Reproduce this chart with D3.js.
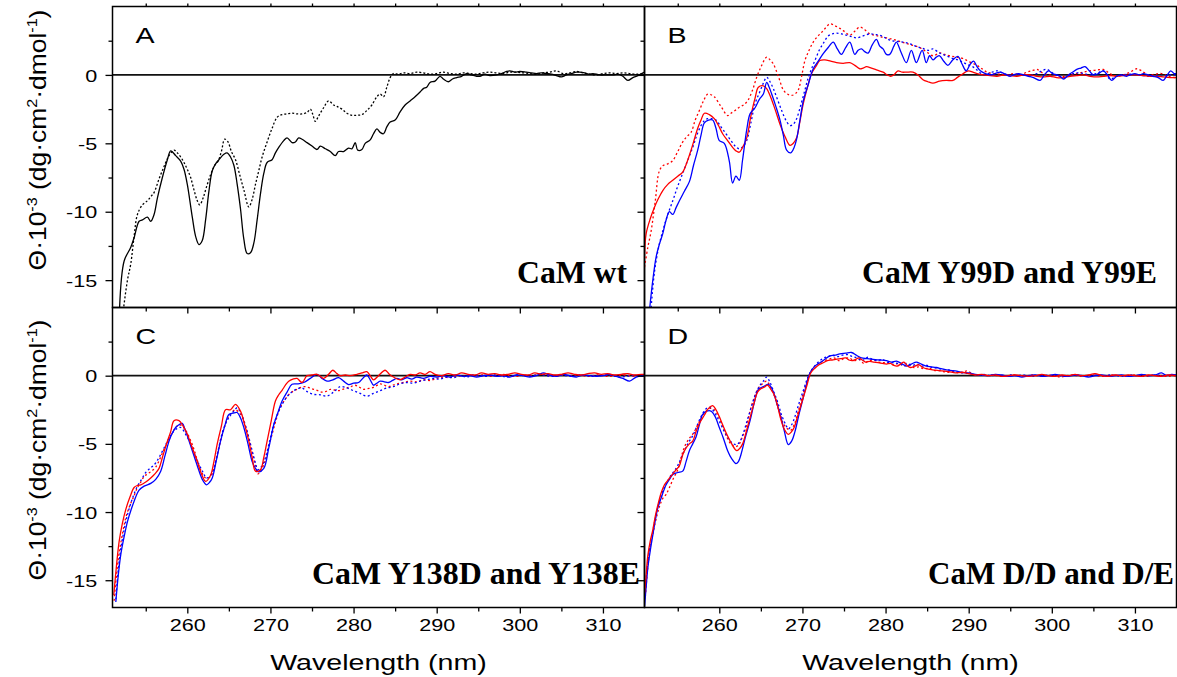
<!DOCTYPE html>
<html>
<head>
<meta charset="utf-8">
<script src="https://cdn.jsdelivr.net/npm/d3@7"></script>
<style>
  body { margin: 0; background: #fff; }
  svg { display: block; }
  .tick text { font-family: "Liberation Sans", Arial, sans-serif; font-size: 17px; fill: #000; }
</style>
</head>
<body>
<svg id="chart" width="1177" height="677"></svg>
<script>
// ---- data: [wavelength nm, theta*10^-3] ----
const aWtSolid = [[251.84,-17.2],[252.4,-13.6],[253.2,-12.6],[253.6,-11.9],[254.2,-10.7],[254.6,-10.6],[255.2,-10.4],[255.6,-10.7],[256.0,-10.2],[256.4,-9.0],[257.0,-7.5],[257.6,-6.2],[258.0,-5.55],[258.6,-5.9],[259.2,-6.3],[259.6,-6.9],[260.0,-8.0],[260.6,-10.4],[261.0,-11.8],[261.4,-12.4],[261.8,-12.1],[262.2,-10.6],[262.6,-8.5],[263.0,-7.0],[263.4,-6.5],[263.8,-6.2],[264.4,-5.8],[264.8,-5.7],[265.2,-6.0],[265.6,-6.6],[266.0,-8.0],[266.4,-9.8],[266.8,-12.0],[267.2,-13.05],[267.6,-13.0],[268.0,-12.3],[268.4,-10.6],[268.8,-8.7],[269.2,-7.2],[269.6,-6.4],[270.2,-6.2],[270.6,-5.7],[271.0,-5.3],[271.6,-4.8],[272.0,-4.6],[272.6,-4.95],[273.0,-4.9],[273.4,-4.6],[273.8,-4.7],[274.4,-4.95],[275.0,-5.2],[275.6,-5.45],[276.0,-5.2],[276.6,-5.4],[277.2,-5.6],[277.8,-5.9],[278.2,-5.6],[278.8,-5.6],[279.4,-5.35],[279.8,-5.4],[280.2,-4.95],[280.5,-5.5],[281.0,-5.45],[281.4,-5.0],[282.0,-4.75],[282.4,-4.3],[282.8,-3.95],[283.2,-4.2],[283.6,-4.3],[284.0,-3.8],[284.4,-3.45],[285.0,-3.3],[285.6,-2.7],[286.2,-2.2],[286.8,-1.9],[287.4,-1.6],[288.0,-1.25],[288.4,-1.0],[288.8,-0.9],[289.2,-0.55],[289.8,-0.45],[290.4,-0.1],[290.8,-0.3],[291.4,-0.5],[291.9,-0.3],[292.4,-0.2],[293.0,-0.1],[293.6,0.1],[294.2,0.0],[294.8,-0.1],[295.2,-0.1],[295.8,0.05],[296.4,-0.05],[297.2,0.0],[297.8,0.1],[298.4,0.25],[298.8,0.3],[299.4,0.2],[300.0,0.25],[300.8,0.2],[301.4,0.15],[302.0,0.1],[302.6,0.15],[303.2,0.1],[303.8,0.05],[304.4,-0.05],[305.0,-0.15],[305.6,0.0],[306.2,0.1],[306.8,0.2],[307.2,0.2],[307.8,0.15],[308.4,0.05],[308.8,0.1],[309.6,0.0],[310.4,0.0],[311.2,0.0],[311.8,0.05],[312.4,-0.1],[313.0,-0.4],[313.6,-0.2],[314.2,-0.05],[315.0,0.2]];
const aWtDotted = [[252.3,-17.2],[252.8,-15.0],[253.2,-13.8],[253.6,-11.8],[254.0,-10.2],[254.6,-9.5],[255.2,-9.2],[255.6,-8.9],[256.0,-8.6],[256.6,-7.6],[257.2,-6.7],[257.8,-5.9],[258.4,-5.5],[258.8,-5.7],[259.2,-6.0],[259.6,-6.4],[260.0,-6.9],[260.4,-7.5],[260.8,-8.4],[261.2,-9.2],[261.5,-9.5],[261.9,-9.0],[262.3,-8.2],[262.8,-7.3],[263.3,-6.6],[263.7,-6.3],[264.1,-5.6],[264.5,-4.7],[264.9,-4.9],[265.3,-5.6],[265.8,-6.2],[266.3,-7.3],[266.8,-8.4],[267.4,-9.65],[267.8,-9.1],[268.2,-8.0],[268.6,-7.0],[269.0,-6.0],[269.6,-4.9],[270.2,-3.9],[270.8,-3.1],[271.4,-2.9],[272.0,-2.85],[272.6,-2.8],[273.2,-2.85],[273.8,-2.85],[274.4,-2.75],[274.8,-2.5],[275.1,-2.9],[275.4,-3.4],[275.8,-3.0],[276.4,-2.4],[277.0,-1.9],[277.6,-2.2],[278.0,-2.3],[278.6,-2.5],[279.2,-2.8],[279.8,-2.95],[280.4,-2.95],[281.0,-2.9],[281.6,-2.6],[282.2,-2.2],[282.8,-1.6],[283.2,-1.4],[283.6,-1.6],[284.0,-0.9],[284.4,-0.2],[284.8,0.1],[285.4,0.05],[286.0,0.15],[286.8,0.1],[287.6,0.2],[288.4,0.15],[289.2,0.05],[290.0,0.1],[290.8,0.2],[291.6,0.1],[292.4,0.05],[293.2,0.15],[294.0,0.1],[294.8,0.05],[295.6,0.15],[296.4,0.2],[297.2,0.15],[298.0,0.1],[298.8,0.2],[299.6,0.2],[300.4,0.15],[301.2,0.1],[302.0,0.05],[302.8,0.15],[303.6,0.2],[304.4,0.3],[305.2,0.1],[306.0,0.15],[306.8,0.25],[307.6,0.15],[308.4,0.05],[309.2,0.0],[310.0,0.1],[310.8,0.15],[311.6,0.1],[312.4,0.15],[313.2,0.1],[314.0,0.05],[315.0,0.1]];

const bBlueSolid = [[251.6,-17.2],[252.0,-15.0],[252.4,-13.3],[252.8,-12.35],[253.2,-11.6],[253.6,-10.6],[254.0,-10.0],[254.4,-10.2],[254.8,-9.7],[255.2,-9.2],[255.8,-8.5],[256.4,-7.8],[256.9,-6.6],[257.4,-5.5],[257.8,-4.4],[258.2,-3.5],[258.7,-3.3],[259.2,-3.3],[259.6,-3.9],[260.0,-4.8],[260.6,-5.0],[261.2,-6.3],[261.6,-7.9],[262.0,-7.4],[262.4,-7.7],[262.8,-6.2],[263.3,-4.0],[263.7,-2.85],[264.3,-2.4],[264.8,-1.8],[265.3,-1.4],[265.7,-0.55],[266.0,-0.9],[266.3,-1.4],[266.8,-2.3],[267.3,-3.3],[267.7,-4.4],[268.1,-5.5],[268.6,-5.7],[269.0,-5.3],[269.3,-4.7],[269.7,-3.3],[270.1,-1.9],[270.7,-0.7],[271.3,0.45],[271.9,1.0],[272.5,1.55],[273.1,2.0],[273.7,2.4],[274.2,1.9],[274.7,1.5],[275.2,2.0],[275.7,2.4],[276.3,1.5],[276.7,1.8],[277.1,1.9],[277.5,1.7],[277.9,1.6],[278.4,2.2],[278.9,2.6],[279.3,2.1],[279.7,1.9],[280.1,1.5],[280.5,1.5],[281.0,2.1],[281.3,2.4],[281.9,1.6],[282.5,0.9],[283.1,1.8],[283.7,0.9],[284.4,1.8],[284.9,0.9],[285.3,1.4],[285.7,1.1],[286.1,1.3],[286.5,1.4],[287.0,1.0],[287.5,0.7],[288.1,1.1],[288.7,1.35],[289.2,0.8],[289.7,0.3],[290.2,0.8],[290.6,1.0],[291.0,0.6],[291.4,0.3],[292.0,0.1],[292.6,0.0],[293.2,0.1],[293.8,0.2],[294.4,0.05],[295.0,-0.1],[295.4,0.0],[296.0,0.1],[296.6,0.0],[297.2,-0.1],[297.8,-0.2],[298.6,-0.4],[299.1,0.0],[299.6,0.3],[300.1,0.1],[300.6,0.0],[301.0,-0.1],[301.4,-0.3],[302.0,0.0],[302.5,0.2],[303.0,0.4],[303.5,0.5],[304.0,0.6],[304.5,0.3],[305.0,0.0],[305.6,0.1],[306.2,0.3],[306.7,0.0],[307.2,-0.4],[307.8,-0.1],[308.4,0.0],[309.0,-0.1],[309.4,0.0],[310.0,0.1],[310.6,0.0],[311.0,0.1],[311.6,0.0],[312.2,-0.1],[312.8,-0.2],[313.4,-0.4],[313.8,-0.1],[314.3,0.3],[314.7,0.1],[315.0,0.1]];
const bRedSolid = [[251.0,-13.2],[251.2,-11.6],[251.7,-10.5],[252.2,-9.67],[252.7,-9.0],[253.2,-8.45],[253.8,-8.0],[254.4,-7.7],[255.0,-7.4],[255.6,-7.1],[256.1,-6.4],[256.6,-5.5],[257.0,-4.7],[257.4,-3.9],[257.8,-3.3],[258.2,-2.8],[258.8,-2.9],[259.4,-3.2],[259.9,-3.7],[260.4,-4.3],[261.0,-4.8],[261.6,-5.3],[262.0,-5.55],[262.4,-5.65],[262.8,-5.3],[263.3,-4.6],[263.8,-3.0],[264.3,-1.7],[264.7,-0.9],[265.3,-0.8],[265.7,-1.0],[266.1,-1.5],[266.7,-2.5],[267.3,-3.6],[267.9,-4.5],[268.5,-5.15],[268.9,-5.0],[269.3,-4.6],[269.7,-3.4],[270.1,-2.1],[270.6,-0.9],[271.1,0.1],[271.6,0.6],[272.1,1.05],[272.7,1.1],[273.4,1.0],[274.1,0.9],[274.9,0.85],[275.7,0.9],[276.3,0.7],[276.9,0.45],[277.3,0.5],[277.7,0.6],[278.3,0.5],[279.0,0.35],[279.7,0.2],[280.2,0.0],[280.6,-0.1],[281.0,0.0],[281.5,0.3],[282.0,0.2],[282.5,0.2],[283.3,0.2],[283.9,0.0],[284.5,-0.35],[285.1,-0.5],[285.7,-0.6],[286.5,-0.45],[287.3,-0.4],[288.1,-0.4],[288.6,-0.2],[289.1,0.0],[289.6,0.2],[290.0,0.3],[290.5,0.2],[291.0,0.1],[291.8,0.0],[292.6,-0.05],[293.4,-0.1],[294.2,0.0],[295.0,-0.05],[295.8,-0.1],[296.6,0.0],[297.4,0.0],[298.2,-0.1],[299.0,-0.15],[299.8,-0.1],[300.6,-0.2],[301.4,-0.2],[302.2,-0.1],[303.0,-0.05],[303.8,0.0],[304.6,-0.1],[305.4,-0.15],[306.2,-0.1],[307.0,-0.05],[307.8,-0.1],[308.6,-0.05],[309.4,0.0],[310.2,0.0],[311.0,-0.05],[311.8,-0.1],[312.6,-0.1],[313.4,-0.15],[314.2,-0.2],[315.0,-0.2]];
const bBlueDotted = [[251.8,-17.0],[252.2,-14.4],[252.7,-12.6],[253.2,-11.4],[253.8,-10.2],[254.4,-9.2],[254.9,-8.3],[255.4,-7.5],[256.1,-6.4],[256.8,-5.3],[257.3,-4.4],[257.8,-3.7],[258.2,-3.35],[258.6,-3.2],[259.1,-3.2],[259.6,-3.3],[260.2,-3.8],[260.8,-4.3],[261.4,-4.8],[261.9,-5.2],[262.4,-5.4],[262.9,-5.2],[263.3,-4.8],[263.8,-3.5],[264.3,-2.1],[264.9,-1.2],[265.3,-0.6],[265.7,-0.17],[266.1,-0.5],[266.5,-1.0],[267.0,-1.8],[267.5,-2.6],[268.0,-3.3],[268.5,-3.7],[268.9,-3.6],[269.3,-3.2],[269.8,-2.2],[270.3,-1.1],[270.7,-0.2],[271.1,0.45],[271.6,1.2],[272.1,1.9],[272.6,2.4],[273.1,2.85],[273.6,3.0],[274.1,3.05],[274.7,3.0],[275.3,2.9],[275.9,2.8],[276.5,2.7],[277.3,2.85],[278.1,3.0],[278.7,2.95],[279.3,2.9],[280.0,2.7],[280.7,2.5],[281.4,2.45],[282.1,2.4],[282.8,2.3],[283.6,2.1],[284.4,1.95],[285.2,1.8],[285.7,1.9],[286.5,1.6],[287.3,1.4],[288.1,1.2],[288.9,1.05],[289.7,0.8],[290.6,0.55],[291.2,0.25],[291.8,0.0],[292.6,0.15],[293.4,0.3],[294.2,0.1],[295.0,0.0],[295.8,0.05],[296.6,0.0],[297.4,-0.05],[298.2,0.1],[298.8,0.3],[299.4,0.4],[300.2,0.1],[300.8,-0.1],[301.4,-0.2],[302.2,0.0],[303.0,0.15],[303.8,0.1],[304.6,0.0],[305.4,0.1],[306.2,0.3],[307.0,-0.3],[307.8,-0.1],[308.6,0.0],[309.4,0.05],[310.2,0.0],[311.0,-0.05],[311.8,-0.1],[312.6,-0.05],[313.4,-0.1],[314.2,0.0],[315.0,0.0]];
const bRedDotted = [[251.0,-14.05],[251.4,-12.6],[251.8,-11.4],[252.3,-9.2],[252.8,-7.0],[253.3,-6.6],[253.8,-6.5],[254.4,-6.26],[255.0,-5.6],[255.6,-4.9],[256.1,-4.5],[256.6,-4.2],[257.1,-3.3],[257.6,-2.6],[258.1,-1.9],[258.6,-1.4],[259.0,-1.45],[259.4,-1.6],[260.2,-2.3],[261.0,-2.97],[261.4,-2.8],[261.9,-2.6],[262.4,-2.36],[262.9,-2.2],[263.4,-1.9],[264.0,-1.1],[264.5,-0.17],[265.1,0.7],[265.7,1.3],[266.1,1.1],[266.5,0.8],[267.1,-0.1],[267.7,-1.1],[268.2,-1.4],[268.7,-1.5],[269.1,-1.4],[269.5,-1.1],[269.9,-0.1],[270.3,1.05],[270.8,1.8],[271.3,2.4],[271.8,2.8],[272.3,3.1],[272.8,3.45],[273.3,3.73],[273.9,3.6],[274.5,3.4],[275.1,3.15],[275.7,2.9],[276.3,3.2],[276.9,3.5],[277.5,3.3],[278.1,3.0],[278.7,2.9],[279.3,2.8],[280.1,2.7],[280.9,2.6],[281.7,2.45],[282.5,2.3],[283.3,2.15],[284.1,2.0],[284.9,1.7],[285.7,1.4],[286.5,1.6],[287.1,1.5],[287.7,1.4],[288.5,1.3],[289.3,1.2],[290.1,0.95],[291.0,0.7],[291.6,0.45],[292.2,0.2],[293.0,0.1],[293.8,0.05],[294.6,0.0],[295.4,0.1],[296.2,0.0],[297.0,0.2],[297.6,0.3],[298.2,0.4],[299.0,0.1],[299.8,0.0],[300.6,-0.05],[301.4,-0.1],[302.2,0.0],[303.0,0.1],[303.8,0.2],[304.6,0.3],[305.4,0.35],[306.2,0.4],[307.0,0.1],[307.8,-0.1],[308.6,0.0],[309.4,0.2],[310.2,0.45],[310.8,0.3],[311.6,0.0],[312.4,0.05],[313.2,0.1],[314.0,-0.1],[315.0,-0.2]];

const cRedSolid = [[251.15,-16.1],[251.5,-13.8],[251.8,-12.15],[252.2,-10.8],[252.6,-9.8],[253.1,-8.9],[253.6,-8.2],[254.0,-8.05],[254.4,-8.0],[255.0,-7.8],[255.6,-7.5],[256.1,-7.2],[256.6,-6.8],[257.0,-6.0],[257.5,-5.0],[258.0,-4.1],[258.4,-3.3],[259.0,-3.3],[259.5,-3.7],[260.0,-4.3],[260.6,-5.3],[261.2,-6.3],[261.7,-7.2],[262.2,-7.75],[262.8,-7.3],[263.2,-6.3],[263.6,-5.0],[264.1,-3.7],[264.6,-2.5],[265.2,-2.5],[265.8,-2.1],[266.4,-2.6],[266.9,-3.6],[267.4,-4.8],[267.8,-6.0],[268.2,-7.0],[268.8,-6.9],[269.2,-6.0],[269.6,-4.8],[270.1,-3.3],[270.6,-1.86],[271.0,-1.4],[271.4,-1.07],[271.8,-0.7],[272.2,-0.4],[272.7,-0.25],[273.2,-0.2],[273.8,-0.5],[274.4,0.0],[275.0,0.05],[275.6,0.1],[276.0,-0.05],[276.4,-0.2],[277.0,0.1],[277.5,0.4],[278.0,0.15],[278.4,0.0],[279.0,0.05],[279.6,0.0],[280.4,0.1],[281.0,0.2],[281.6,0.3],[282.0,0.0],[282.4,-0.3],[283.0,0.0],[283.8,0.4],[284.3,0.1],[284.8,-0.1],[285.6,-0.3],[286.2,-0.1],[286.8,0.1],[287.4,0.05],[288.0,0.2],[288.6,0.1],[289.2,0.3],[289.8,0.1],[290.6,0.0],[291.4,0.15],[292.2,0.05],[293.0,0.2],[293.8,0.1],[294.6,0.05],[295.4,0.2],[296.2,0.1],[297.0,0.15],[297.8,0.05],[298.6,0.1],[299.4,0.2],[300.2,0.1],[301.0,0.05],[301.8,0.2],[302.6,0.1],[303.4,0.15],[304.2,0.05],[305.0,0.1],[305.8,0.2],[306.6,0.1],[307.4,0.05],[308.2,0.15],[309.0,0.2],[309.8,0.1],[310.6,0.15],[311.4,0.05],[312.2,0.1],[313.0,0.15],[313.8,0.05],[314.6,0.1],[315.0,0.1]];
const cBlueSolid = [[251.4,-16.6],[251.7,-14.6],[252.0,-13.1],[252.4,-11.8],[252.8,-10.7],[253.2,-9.9],[253.6,-9.2],[254.2,-8.4],[254.8,-8.1],[255.6,-7.9],[256.2,-7.6],[256.8,-7.0],[257.3,-5.9],[257.8,-4.8],[258.2,-4.2],[258.6,-3.8],[259.0,-3.6],[259.4,-3.5],[259.7,-3.9],[260.0,-4.4],[260.6,-5.5],[261.2,-6.6],[261.8,-7.6],[262.3,-8.0],[262.7,-7.8],[263.0,-7.5],[263.5,-6.2],[264.0,-4.8],[264.5,-3.7],[265.0,-2.85],[265.5,-2.75],[266.0,-2.7],[266.4,-3.1],[266.8,-3.8],[267.3,-5.0],[267.8,-6.3],[268.2,-6.8],[268.6,-7.05],[269.2,-6.8],[269.8,-5.3],[270.4,-3.6],[270.9,-2.7],[271.4,-1.86],[272.0,-1.2],[272.6,-0.63],[273.3,-0.6],[274.0,-0.5],[274.8,-0.2],[275.6,0.1],[276.2,-0.2],[276.8,-0.4],[277.5,-0.3],[278.2,-0.15],[278.8,-0.4],[279.4,-0.65],[280.0,-0.55],[280.6,-0.5],[281.1,-0.2],[281.6,0.05],[282.0,-0.3],[282.4,-0.7],[282.8,-0.55],[283.2,-0.4],[283.7,-0.45],[284.2,-0.5],[284.7,-0.35],[285.2,-0.2],[285.8,-0.3],[286.4,-0.15],[287.0,-0.25],[287.6,-0.1],[288.4,-0.2],[289.2,-0.05],[290.0,-0.1],[290.8,0.0],[291.6,-0.1],[292.4,0.05],[293.2,-0.05],[294.0,0.0],[294.8,-0.1],[295.6,0.0],[296.4,0.05],[297.2,-0.05],[298.0,0.0],[298.8,-0.1],[299.6,0.05],[300.4,0.0],[301.2,-0.1],[302.0,0.0],[302.8,0.2],[303.6,0.05],[304.4,-0.05],[305.2,0.1],[306.0,0.0],[306.8,-0.1],[307.6,0.05],[308.4,0.0],[309.2,-0.05],[310.0,0.0],[310.8,0.1],[311.6,-0.05],[312.4,-0.2],[313.2,-0.4],[314.0,-0.1],[315.0,0.0]];
const cBlueDotted = [[251.4,-16.4],[251.7,-14.2],[252.0,-12.7],[252.4,-11.3],[252.8,-10.2],[253.4,-9.0],[254.0,-8.1],[254.5,-7.6],[255.0,-7.1],[255.5,-6.8],[256.0,-6.55],[256.6,-6.0],[257.2,-5.3],[257.7,-4.7],[258.2,-4.2],[258.7,-3.9],[259.2,-3.8],[259.8,-4.3],[260.4,-5.0],[260.9,-5.8],[261.4,-6.5],[261.9,-7.1],[262.3,-7.5],[262.8,-7.3],[263.2,-6.8],[263.7,-5.5],[264.2,-4.2],[264.7,-3.4],[265.2,-2.9],[265.6,-2.6],[266.0,-2.35],[266.4,-2.7],[266.8,-3.3],[267.3,-4.3],[267.8,-5.5],[268.2,-6.4],[268.5,-6.9],[269.0,-6.6],[269.4,-6.0],[269.9,-4.8],[270.4,-3.6],[271.0,-2.6],[271.6,-1.9],[272.2,-1.4],[272.8,-1.1],[273.3,-0.95],[273.8,-0.9],[274.5,-1.2],[275.2,-1.37],[276.0,-1.4],[276.8,-1.5],[277.6,-1.2],[278.4,-0.8],[279.2,-0.9],[280.0,-1.1],[280.8,-1.3],[281.6,-1.5],[282.4,-1.3],[283.2,-1.1],[284.0,-0.9],[284.8,-0.8],[285.6,-0.6],[286.4,-0.5],[287.2,-0.55],[288.0,-0.4],[288.8,-0.3],[289.6,-0.2],[290.4,-0.25],[291.2,-0.1],[292.0,-0.15],[292.8,0.0],[293.6,-0.1],[294.4,0.05],[295.2,0.0],[296.0,-0.05],[296.8,0.05],[297.6,0.0],[298.4,-0.1],[299.2,0.0],[300.0,0.05],[300.8,-0.05],[301.6,0.0],[302.4,0.1],[303.2,0.0],[304.0,-0.05],[304.8,0.05],[305.6,0.0],[306.4,-0.05],[307.2,0.05],[308.0,0.0],[308.8,-0.05],[309.6,0.0],[310.4,0.05],[311.2,0.0],[312.0,-0.1],[312.8,-0.05],[313.6,0.0],[314.4,-0.05],[315.0,0.0]];
const cRedDotted = [[251.2,-16.5],[251.5,-14.5],[251.8,-13.0],[252.2,-11.6],[252.6,-10.4],[253.1,-9.5],[253.6,-8.8],[254.0,-8.2],[254.4,-7.8],[254.8,-7.4],[255.2,-7.2],[255.7,-7.0],[256.2,-6.7],[256.7,-6.1],[257.2,-5.4],[257.7,-4.8],[258.2,-4.2],[258.6,-3.8],[259.0,-3.6],[259.4,-3.7],[259.8,-4.0],[260.3,-4.6],[260.8,-5.4],[261.2,-6.2],[261.6,-6.9],[262.2,-7.5],[262.8,-7.4],[263.2,-6.8],[263.6,-5.8],[264.0,-4.8],[264.4,-3.9],[264.8,-3.2],[265.2,-2.8],[265.8,-2.5],[266.2,-2.7],[266.6,-3.0],[267.0,-3.7],[267.4,-4.6],[267.8,-5.6],[268.2,-6.6],[268.5,-7.2],[268.9,-6.9],[269.4,-6.2],[269.8,-5.2],[270.2,-4.3],[270.7,-3.2],[271.2,-2.3],[271.7,-1.8],[272.2,-1.4],[272.7,-1.15],[273.2,-1.0],[273.7,-0.85],[274.2,-0.8],[274.7,-0.9],[275.2,-1.0],[275.7,-1.1],[276.2,-1.2],[276.7,-1.15],[277.2,-1.0],[277.7,-1.05],[278.2,-1.1],[278.7,-1.0],[279.2,-0.9],[279.7,-0.8],[280.2,-0.7],[280.7,-0.85],[281.2,-1.0],[281.7,-0.95],[282.2,-0.9],[282.7,-0.75],[283.2,-0.6],[283.7,-0.7],[284.2,-0.8],[284.7,-0.7],[285.2,-0.6],[286.0,-0.5],[286.8,-0.4],[287.6,-0.45],[288.4,-0.3],[289.2,-0.35],[290.0,-0.2],[290.8,-0.1],[291.6,-0.15],[292.4,0.0],[293.2,-0.05],[294.0,0.05],[294.8,0.0],[295.6,0.05],[296.4,-0.05],[297.2,0.0],[298.0,0.1],[298.8,0.0],[299.6,-0.05],[300.4,0.05],[301.2,0.0],[302.0,0.05],[302.8,0.1],[303.6,0.0],[304.4,-0.05],[305.2,0.05],[306.0,0.0],[306.8,0.05],[307.6,0.0],[308.4,-0.05],[309.2,0.05],[310.0,0.0],[310.8,-0.05],[311.6,0.0],[312.4,0.05],[313.2,0.0],[314.0,-0.05],[315.0,0.0]];

const dBlueSolid = [[251.0,-16.9],[251.2,-15.5],[251.4,-14.1],[251.7,-12.8],[252.0,-11.7],[252.3,-10.6],[252.6,-9.7],[253.1,-8.8],[253.6,-8.0],[254.0,-7.6],[254.4,-7.25],[255.0,-7.1],[255.6,-7.0],[256.0,-6.3],[256.4,-5.5],[256.8,-5.0],[257.2,-4.5],[257.6,-3.6],[258.0,-2.84],[258.5,-2.6],[259.0,-2.6],[259.5,-3.0],[260.0,-3.8],[260.5,-4.6],[261.0,-5.5],[261.5,-6.1],[262.0,-6.45],[262.3,-6.3],[262.6,-5.8],[263.1,-4.6],[263.7,-3.3],[264.2,-2.0],[264.7,-1.0],[265.3,-0.8],[265.9,-0.63],[266.2,-0.8],[266.5,-1.2],[266.9,-2.0],[267.3,-2.8],[267.8,-4.0],[268.3,-5.05],[268.7,-4.8],[269.1,-4.1],[269.6,-2.8],[270.1,-1.6],[270.5,-0.6],[270.9,0.2],[271.5,0.7],[272.1,0.95],[272.7,1.2],[273.3,1.45],[273.9,1.5],[274.5,1.6],[275.2,1.65],[275.9,1.7],[276.5,1.5],[277.1,1.3],[277.8,1.25],[278.5,1.2],[279.3,1.15],[280.1,1.1],[280.7,1.0],[281.3,1.07],[281.9,0.9],[282.5,0.7],[283.1,0.85],[283.7,1.0],[284.3,0.85],[284.9,0.7],[285.5,0.65],[286.1,0.6],[286.8,0.5],[287.6,0.4],[288.4,0.35],[289.2,0.25],[290.0,0.2],[290.8,0.1],[291.6,0.05],[292.4,0.0],[293.2,0.1],[294.0,0.05],[294.8,-0.05],[295.6,0.0],[296.4,-0.1],[297.2,0.0],[298.0,0.05],[298.8,-0.05],[299.6,0.0],[300.4,0.1],[301.2,0.0],[302.0,-0.05],[302.8,0.05],[303.6,0.0],[304.4,-0.1],[305.2,0.0],[306.0,0.05],[306.8,-0.05],[307.6,0.0],[308.4,0.05],[309.2,-0.05],[310.0,0.0],[310.8,0.1],[311.6,0.0],[312.4,0.05],[313.2,0.2],[313.8,0.0],[314.4,0.1],[315.0,0.05]];
const dRedSolid = [[251.0,-16.0],[251.2,-14.6],[251.4,-13.2],[251.7,-12.1],[252.0,-11.3],[252.3,-10.3],[252.6,-9.5],[253.0,-8.6],[253.4,-8.0],[253.9,-7.6],[254.4,-7.2],[254.8,-6.9],[255.2,-6.6],[255.6,-5.8],[256.0,-5.3],[256.4,-5.0],[256.8,-4.8],[257.2,-4.1],[257.6,-3.5],[258.2,-2.9],[258.7,-2.4],[259.2,-2.2],[259.6,-2.5],[260.0,-3.0],[260.4,-3.6],[260.9,-4.3],[261.4,-4.9],[261.9,-5.4],[262.1,-5.5],[262.5,-5.3],[262.8,-5.0],[263.2,-4.2],[263.6,-3.3],[264.1,-2.2],[264.6,-1.2],[265.0,-0.95],[265.4,-0.85],[265.8,-0.7],[266.2,-1.0],[266.6,-1.4],[267.0,-2.2],[267.4,-3.2],[267.8,-3.9],[268.3,-4.3],[268.7,-4.1],[269.0,-3.8],[269.5,-2.8],[270.0,-1.8],[270.5,-0.8],[271.0,0.2],[271.5,0.55],[272.0,0.8],[272.5,0.95],[273.0,1.1],[273.5,1.15],[274.0,1.2],[274.6,1.25],[275.2,1.3],[275.6,1.15],[276.0,1.1],[276.4,1.2],[276.8,1.3],[277.2,1.15],[277.6,1.0],[278.1,1.05],[278.6,1.0],[279.1,0.95],[279.6,0.9],[280.1,0.85],[280.6,0.9],[281.0,0.75],[281.4,0.7],[281.8,0.85],[282.2,1.0],[282.6,0.75],[283.0,0.6],[283.5,0.7],[284.0,0.8],[284.5,0.6],[285.0,0.5],[285.5,0.45],[286.0,0.4],[286.8,0.35],[287.6,0.3],[288.4,0.2],[289.2,0.25],[290.0,0.15],[290.8,0.05],[291.6,0.1],[292.4,0.0],[293.2,0.05],[294.0,-0.05],[294.8,0.0],[295.6,0.05],[296.4,0.0],[297.2,-0.05],[298.0,0.0],[298.8,0.1],[299.6,0.0],[300.4,-0.05],[301.2,0.05],[302.0,0.0],[302.8,0.1],[303.6,0.0],[304.4,0.05],[305.2,0.15],[306.0,0.0],[306.8,-0.05],[307.6,0.05],[308.4,0.0],[309.2,0.05],[310.0,0.0],[310.8,-0.05],[311.6,0.05],[312.4,0.0],[313.2,-0.05],[314.0,0.05],[315.0,0.0]];
const dBlueDotted = [[251.0,-16.4],[251.3,-14.2],[251.6,-12.7],[252.0,-11.4],[252.4,-10.2],[252.8,-9.2],[253.3,-8.3],[253.8,-7.7],[254.3,-7.2],[254.8,-6.8],[255.3,-6.2],[255.8,-5.5],[256.3,-4.9],[256.8,-4.4],[257.3,-3.7],[257.8,-3.0],[258.3,-2.5],[258.7,-2.3],[259.2,-2.5],[259.7,-3.0],[260.2,-3.6],[260.7,-4.2],[261.2,-4.7],[261.7,-5.0],[262.1,-5.05],[262.5,-4.8],[262.9,-4.2],[263.4,-3.2],[263.9,-2.2],[264.4,-1.3],[264.9,-0.7],[265.3,-0.4],[265.7,-0.1],[266.1,-0.5],[266.5,-1.1],[267.0,-1.9],[267.5,-2.9],[268.0,-3.6],[268.3,-3.9],[268.7,-3.6],[269.1,-3.0],[269.6,-2.0],[270.1,-1.1],[270.6,-0.2],[271.1,0.4],[271.6,0.8],[272.1,1.1],[272.6,1.3],[273.1,1.4],[273.6,1.5],[274.2,1.4],[274.8,1.5],[275.4,1.55],[276.0,1.4],[276.6,1.3],[277.2,1.1],[277.8,1.35],[278.4,1.2],[279.0,1.1],[279.6,1.2],[280.2,1.0],[280.8,0.95],[281.4,0.9],[282.0,0.8],[282.6,0.9],[283.2,0.75],[283.8,0.85],[284.4,0.7],[285.0,0.75],[285.6,0.6],[286.2,0.55],[287.0,0.45],[287.8,0.4],[288.6,0.3],[289.4,0.2],[290.2,0.15],[291.0,0.05],[291.8,0.1],[292.6,0.0],[293.4,0.05],[294.2,-0.05],[295.0,0.05],[295.8,0.0],[296.6,0.05],[297.4,-0.05],[298.2,0.0],[299.0,0.05],[299.8,0.0],[300.6,0.05],[301.4,-0.05],[302.2,0.0],[303.0,0.05],[303.8,0.0],[304.6,-0.05],[305.4,0.05],[306.2,0.0],[307.0,0.05],[307.8,0.0],[308.6,-0.05],[309.4,0.05],[310.2,0.0],[311.0,0.05],[311.8,0.0],[312.6,0.05],[313.4,0.0],[314.2,0.05],[315.0,0.0]];
const dRedDotted = [[251.1,-16.2],[251.4,-14.0],[251.7,-12.5],[252.0,-11.6],[252.4,-10.5],[252.8,-9.6],[253.2,-9.0],[253.6,-8.7],[254.0,-8.2],[254.5,-7.5],[255.0,-6.9],[255.4,-6.0],[255.9,-5.1],[256.4,-4.6],[256.9,-4.2],[257.4,-3.6],[257.9,-3.0],[258.4,-2.6],[258.9,-2.4],[259.4,-2.5],[259.9,-3.0],[260.4,-3.7],[260.9,-4.5],[261.4,-5.0],[261.9,-5.2],[262.3,-5.1],[262.7,-4.6],[263.2,-3.8],[263.7,-2.6],[264.2,-1.6],[264.7,-0.9],[265.2,-0.6],[265.7,-0.4],[266.2,-0.9],[266.7,-1.6],[267.2,-2.6],[267.7,-3.5],[268.2,-3.9],[268.6,-4.0],[269.0,-3.6],[269.5,-2.6],[270.0,-1.5],[270.5,-0.5],[271.0,0.3],[271.5,0.7],[272.0,0.9],[272.6,1.1],[273.2,1.2],[273.8,1.3],[274.4,1.1],[275.0,1.25],[275.6,1.3],[276.2,1.1],[276.8,1.2],[277.4,0.9],[278.0,1.1],[278.6,1.15],[279.2,1.0],[279.8,0.95],[280.4,0.9],[281.0,0.8],[281.6,0.9],[282.2,0.7],[282.8,0.8],[283.4,0.6],[284.0,0.65],[284.6,0.5],[285.2,0.55],[285.8,0.4],[286.6,0.35],[287.4,0.25],[288.2,0.3],[289.0,0.2],[289.8,0.35],[290.6,0.1],[291.4,0.05],[292.2,0.0],[293.0,0.05],[293.8,-0.05],[294.6,0.0],[295.4,0.05],[296.2,-0.05],[297.0,0.0],[297.8,0.05],[298.6,-0.05],[299.4,0.0],[300.2,0.05],[301.0,-0.1],[301.8,0.0],[302.6,0.05],[303.4,-0.05],[304.2,0.0],[305.0,0.05],[305.8,-0.05],[306.6,0.0],[307.4,0.05],[308.2,0.0],[309.0,-0.05],[309.8,0.05],[310.6,0.0],[311.4,-0.05],[312.2,0.05],[313.0,0.0],[313.8,-0.05],[315.0,0.0]];

const panelLetters = ['A', 'B', 'C', 'D'];
const panelTitles = ['CaM wt', 'CaM Y99D and Y99E', 'CaM Y138D and Y138E', 'CaM D/D and D/E'];
const xDomain = [251, 315];
const yDomain = [-17, 5];
const xMajorTicks = [260, 270, 280, 290, 300, 310];
const xMinorTicks = [255, 265, 275, 285, 295, 305];
const yMajorTicks = [-15, -10, -5, 0];
const yMinorTicks = [-12.5, -7.5, -2.5, 2.5];

const svg = d3.select('#chart');
svg.append('rect').attr('width', 1177).attr('height', 677).attr('fill', '#fff');

const cols = [112.5, 644.5];
const rows = [6.5, 307.5];
const pw = 532;
const ph = [301, 300];

const panels = [
  { col: 0, row: 0, series: [
      { data: aWtDotted, color: '#000', dash: '2,2' },
      { data: aWtSolid, color: '#000', dash: null }],
    titleRight: 627, titleW: 110 },
  { col: 1, row: 0, series: [
      { data: bRedDotted, color: '#ff0000', dash: '2,2.5' },
      { data: bBlueDotted, color: '#0000ff', dash: '2,2.5' },
      { data: bRedSolid, color: '#ff0000', dash: null },
      { data: bBlueSolid, color: '#0000ff', dash: null }],
    titleRight: 1157, titleW: 295 },
  { col: 0, row: 1, series: [
      { data: cRedDotted, color: '#ff0000', dash: '2,2.5' },
      { data: cBlueDotted, color: '#0000ff', dash: '2,2.5' },
      { data: cBlueSolid, color: '#0000ff', dash: null },
      { data: cRedSolid, color: '#ff0000', dash: null }],
    titleRight: 640, titleW: 328 },
  { col: 1, row: 1, series: [
      { data: dRedDotted, color: '#ff0000', dash: '2,2.5' },
      { data: dBlueDotted, color: '#0000ff', dash: '2,2.5' },
      { data: dBlueSolid, color: '#0000ff', dash: null },
      { data: dRedSolid, color: '#ff0000', dash: null }],
    titleRight: 1174, titleW: 246 }
];

const drawPanel = (parent, p, i) => {
  const left = cols[p.col];
  const top = rows[p.row];
  const h = ph[p.row];

  const x = d3.scaleLinear().domain(xDomain).range([left, left + pw]);
  const y = d3.scaleLinear().domain(yDomain).range([top + h, top]);

  const g = parent.append('g').attr('class', 'panel');

  // clip so curves starting below -17 stop at the frame
  g.append('clipPath').attr('id', 'clip' + i)
    .append('rect').attr('x', left).attr('y', top).attr('width', pw).attr('height', h);

  // axes: ticks outward, labels only on the outer edges
  const yMajor = d3.axisLeft(y).tickValues(yMajorTicks).tickSize(7).tickSizeOuter(0)
    .tickFormat(d => p.col === 0 ? (d < 0 ? '-' + Math.abs(d) : d) : '');
  const yMinor = d3.axisLeft(y).tickValues(yMinorTicks).tickSize(4).tickSizeOuter(0).tickFormat('');
  const xMajor = d3.axisBottom(x).tickValues(xMajorTicks).tickSize(6).tickSizeOuter(0)
    .tickFormat(d => p.row === 1 ? d : '');
  const xMinor = d3.axisBottom(x).tickValues(xMinorTicks).tickSize(4).tickSizeOuter(0).tickFormat('');
  const xTop = d3.axisTop(x).tickValues(xMajorTicks.concat(xMinorTicks)).tickSize(3).tickSizeOuter(0).tickFormat('');

  const yg = g.append('g').attr('transform', `translate(${left},0)`).call(yMajor);
  g.append('g').attr('transform', `translate(${left},0)`).call(yMinor);
  const xg = g.append('g').attr('transform', `translate(0,${top + h})`).call(xMajor);
  g.append('g').attr('transform', `translate(0,${top + h})`).call(xMinor);
  if (p.row === 0) g.append('g').attr('transform', `translate(0,${top})`).call(xTop);

  g.selectAll('.domain').remove();
  g.selectAll('.tick line').attr('stroke', '#000').attr('stroke-width', 1.3);

  yg.selectAll('.tick text')
    .attr('x', -12).attr('dy', '0.36em')
    .attr('transform', 'scale(1.27,1)');
  xg.selectAll('.tick text')
    .attr('y', 24).attr('dy', null)
    .attr('transform', 'scale(1.27,1)');

  // zero line
  g.append('line')
    .attr('x1', left).attr('x2', left + pw)
    .attr('y1', y(0)).attr('y2', y(0))
    .attr('stroke', '#111').attr('stroke-width', 1.8);

  // curves
  const line = d3.line()
    .x(d => x(d[0]))
    .y(d => y(d[1]))
    .curve(d3.curveCatmullRom.alpha(0.5));

  g.append('g').attr('clip-path', `url(#clip${i})`)
    .selectAll('path.curve').data(p.series).enter()
    .append('path')
      .attr('class', 'curve')
      .attr('d', s => line(s.data))
      .attr('fill', 'none')
      .attr('stroke', s => s.color)
      .attr('stroke-width', 1.3)
      .attr('stroke-dasharray', s => s.dash);

  // frame
  g.append('rect')
    .attr('x', left).attr('y', top).attr('width', pw).attr('height', h)
    .attr('fill', 'none').attr('stroke', '#000').attr('stroke-width', 1.5);

  // panel letter
  g.append('text')
    .attr('transform', `translate(${left + 23},${top + 36}) scale(1.3,1)`)
    .style('font-family', '"Liberation Sans", Arial, sans-serif')
    .style('font-size', '22px')
    .text(panelLetters[i]);

  // sample title
  g.append('text')
    .attr('x', p.titleRight - p.titleW).attr('y', top + 276)
    .attr('textLength', p.titleW).attr('lengthAdjust', 'spacingAndGlyphs')
    .style('font-family', '"Liberation Serif", "Times New Roman", serif')
    .style('font-weight', 'bold')
    .style('font-size', '31px')
    .text(panelTitles[i]);
};

panels.forEach((p, i) => drawPanel(svg, p, i));

// y axis titles
const yTitle = (cy) => {
  const t = svg.append('text')
    .attr('transform', `translate(46,${cy}) rotate(-90) scale(1.15,1)`)
    .attr('text-anchor', 'middle')
    .style('font-family', '"Liberation Sans", Arial, sans-serif')
    .style('font-size', '23px');
  t.append('tspan').text('Θ·10');
  t.append('tspan').attr('dy', -9).style('font-size', '14px').text('-3');
  t.append('tspan').attr('dy', 9).text(' (dg·cm');
  t.append('tspan').attr('dy', -9).style('font-size', '14px').text('2');
  t.append('tspan').attr('dy', 9).text('·dmol');
  t.append('tspan').attr('dy', -9).style('font-size', '14px').text('-1');
  t.append('tspan').attr('dy', 9).text(')');
};
yTitle(140);
yTitle(450);

// x axis titles
[cols[0], cols[1]].forEach(left => {
  svg.append('text')
    .attr('transform', `translate(${left + 266},670) scale(1.3,1)`)
    .attr('text-anchor', 'middle')
    .style('font-family', '"Liberation Sans", Arial, sans-serif')
    .style('font-size', '22px')
    .text('Wavelength (nm)');
});
</script>
</body>
</html>
